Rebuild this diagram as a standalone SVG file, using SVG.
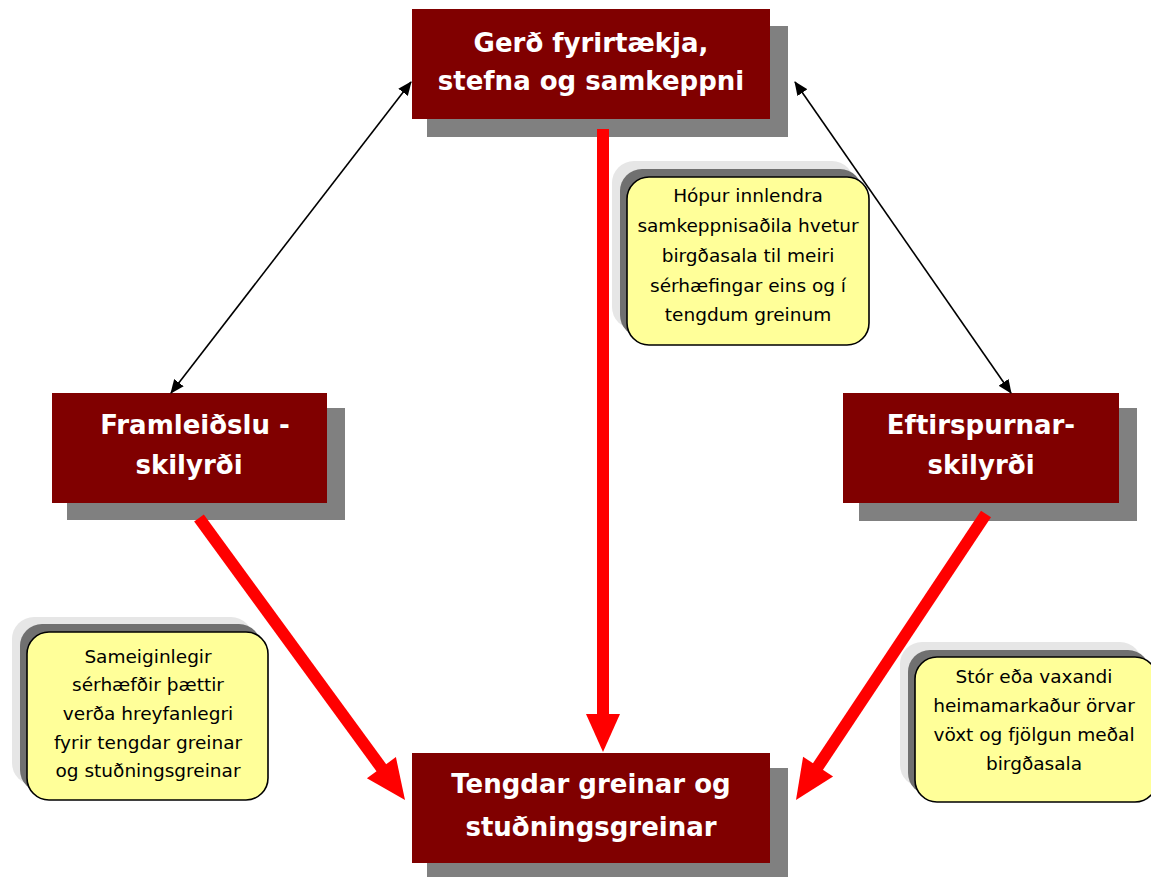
<svg xmlns="http://www.w3.org/2000/svg" width="1151" height="877" viewBox="0 0 1151 877">
<style>
.box{fill:#800000;}
.shd{fill:#808080;}
.ttl{font-family:"DejaVu Sans","Liberation Sans",sans-serif;font-weight:bold;font-size:26px;fill:#ffffff;text-anchor:middle;}
.cl{fill:#ffff99;stroke:#000;stroke-width:1.6;}
.cs1{fill:#e6e6e6;}
.cs2{fill:#707070;}
.ct{font-family:"DejaVu Sans","Liberation Sans",sans-serif;font-size:18.5px;fill:#000;text-anchor:middle;}
.blk{stroke:#000;stroke-width:1.6;fill:none;}
.red{stroke:#ff0000;stroke-width:12;fill:none;}
</style>
<defs>
<marker id="ah" markerWidth="14" markerHeight="12" refX="13" refY="6" orient="auto-start-reverse" markerUnits="userSpaceOnUse">
<path d="M0,0 L14,6 L0,12 Z" fill="#000"/>
</marker>
</defs>

<g id="node-top">
<rect class="shd" x="427" y="26" width="361" height="111"/>
<rect class="box" x="412" y="9" width="358" height="110"/>
<text class="ttl" x="591" y="52">Gerð fyrirtækja,</text>
<text class="ttl" x="591" y="90">stefna og samkeppni</text>
</g>

<g id="node-left">
<rect class="shd" x="67" y="408" width="278" height="112"/>
<rect class="box" x="52" y="393" width="275" height="110"/>
<text class="ttl" x="195" y="434">Framleiðslu -</text>
<text class="ttl" x="189" y="474">skilyrði</text>
</g>

<g id="node-right">
<rect class="shd" x="859" y="408" width="278" height="113"/>
<rect class="box" x="843" y="393" width="276" height="110"/>
<text class="ttl" x="981" y="434">Eftirspurnar-</text>
<text class="ttl" x="981" y="474">skilyrði</text>
</g>

<g id="node-bottom">
<rect class="shd" x="427" y="768" width="361" height="109"/>
<rect class="box" x="412" y="753" width="358" height="110"/>
<text class="ttl" x="591" y="793">Tengdar greinar og</text>
<text class="ttl" x="591" y="836">stuðningsgreinar</text>
</g>

<g id="connectors">
<line class="blk" x1="411" y1="82" x2="171" y2="393" marker-start="url(#ah)" marker-end="url(#ah)"/>
<line class="blk" x1="795" y1="82" x2="1011" y2="393" marker-start="url(#ah)" marker-end="url(#ah)"/>
<line class="red" x1="603" y1="129" x2="603" y2="716"/>
<polygon fill="#ff0000" points="586,714 620,714 603,752"/>
<line class="red" x1="199" y1="518" x2="383" y2="770"/>
<polygon fill="#ff0000" points="366.9,778.3 395.9,757.1 405,800"/>
<line class="red" x1="986" y1="514" x2="817" y2="768"/>
<polygon fill="#ff0000" points="833.1,776.6 803.1,756.7 796,800"/>
</g>

<g id="note-top">
<rect class="cs1" x="612" y="161" width="242" height="168" rx="22"/>
<rect class="cs2" x="620" y="169" width="242" height="168" rx="22"/>
<rect class="cl" x="627" y="177" width="242" height="168" rx="22"/>
<text class="ct" x="748" y="202">Hópur innlendra</text>
<text class="ct" x="748" y="232">samkeppnisaðila hvetur</text>
<text class="ct" x="748" y="262">birgðasala til meiri</text>
<text class="ct" x="748" y="292">sérhæfingar eins og í</text>
<text class="ct" x="748" y="321">tengdum greinum</text>
</g>

<g id="note-left">
<rect class="cs1" x="12" y="617" width="241" height="168" rx="22"/>
<rect class="cs2" x="20" y="624" width="241" height="168" rx="22"/>
<rect class="cl" x="27" y="632" width="241" height="168" rx="22"/>
<text class="ct" x="148" y="663">Sameiginlegir</text>
<text class="ct" x="148" y="691">sérhæfðir þættir</text>
<text class="ct" x="148" y="720">verða hreyfanlegri</text>
<text class="ct" x="148" y="749">fyrir tengdar greinar</text>
<text class="ct" x="148" y="777">og stuðningsgreinar</text>
</g>

<g id="note-right">
<rect class="cs1" x="900" y="642" width="242" height="145" rx="22"/>
<rect class="cs2" x="908" y="650" width="242" height="145" rx="22"/>
<rect class="cl" x="915" y="657" width="242" height="145" rx="22"/>
<text class="ct" x="1034" y="683">Stór eða vaxandi</text>
<text class="ct" x="1034" y="712">heimamarkaður örvar</text>
<text class="ct" x="1034" y="741">vöxt og fjölgun meðal</text>
<text class="ct" x="1034" y="770">birgðasala</text>
</g>
</svg>
